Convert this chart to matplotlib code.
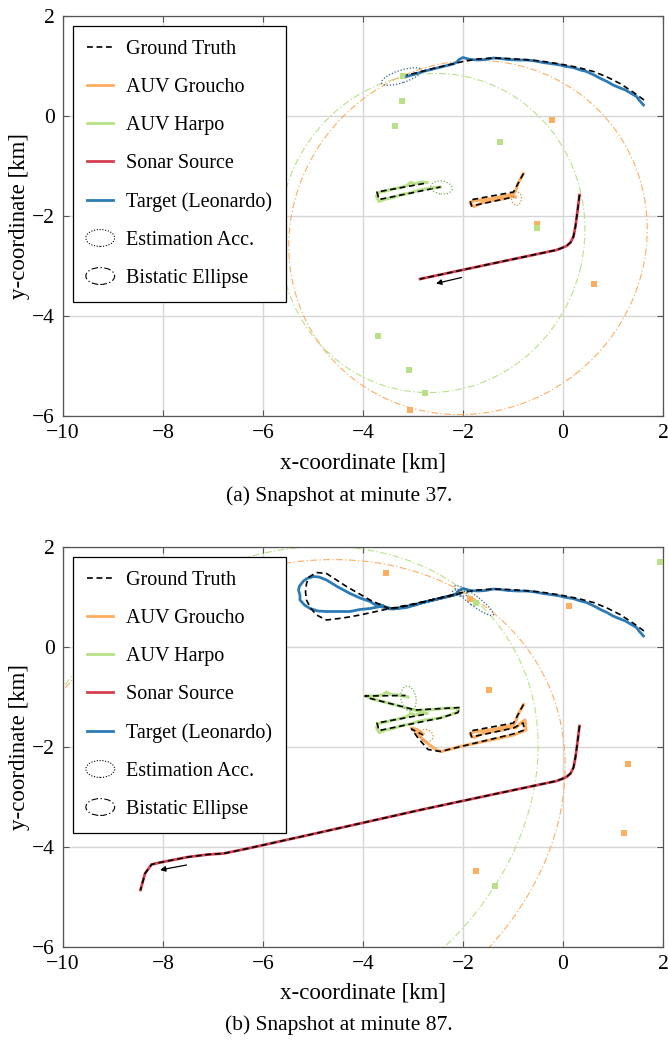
import matplotlib
matplotlib.use('Agg')
import matplotlib.pyplot as plt
from matplotlib.patches import Ellipse
from matplotlib.lines import Line2D
from matplotlib.legend_handler import HandlerPatch

plt.rcParams['font.family'] = ['Liberation Serif', 'DejaVu Serif']

ORANGE = '#fdae61'
GREEN = '#b8e186'
RED = '#d53e4f'
BLUE = '#2c7bb6'
ORANGE_DARK = '#d08a3c'
GREEN_DARK = '#6fae4a'
BLUE_DARK = '#2f5f8f'

# ---- tracks (km), snapshot at minute 37 ----
target_gt_a = [(1.62, 0.32), (1.40, 0.48), (1.14, 0.65), (0.88, 0.78), (0.61, 0.89),
               (0.30, 0.97), (-0.06, 1.04), (-0.45, 1.10), (-0.80, 1.13), (-1.10, 1.15),
               (-1.40, 1.16), (-1.70, 1.14), (-2.00, 1.09), (-2.30, 1.02), (-2.60, 0.95),
               (-2.90, 0.87), (-3.13, 0.82)]
target_est_a = [(1.61, 0.22), (1.52, 0.32), (1.47, 0.39), (1.35, 0.46), (1.25, 0.52),
                (1.12, 0.57), (1.00, 0.62), (0.88, 0.69), (0.75, 0.75), (0.62, 0.82),
                (0.47, 0.89), (0.35, 0.92), (0.20, 0.97), (0.06, 0.99), (-0.06, 1.02),
                (-0.25, 1.05), (-0.40, 1.07), (-0.55, 1.10), (-0.73, 1.12), (-0.90, 1.12),
                (-1.10, 1.13), (-1.25, 1.15), (-1.39, 1.16), (-1.55, 1.13), (-1.70, 1.12),
                (-1.85, 1.13), (-1.93, 1.15), (-2.00, 1.17), (-2.08, 1.13), (-2.13, 1.07),
                (-2.20, 1.04), (-2.40, 0.99), (-2.60, 0.94), (-2.80, 0.89), (-2.95, 0.84),
                (-3.13, 0.79)]
harpo_gt_a = [(-2.78, -1.35), (-3.72, -1.52), (-3.68, -1.67), (-2.45, -1.42)]
harpo_est_a = [(-2.72, -1.33), (-2.85, -1.32), (-2.95, -1.36), (-3.05, -1.33), (-3.12, -1.39),
               (-3.25, -1.43), (-3.40, -1.46), (-3.55, -1.50), (-3.70, -1.53), (-3.73, -1.61),
               (-3.68, -1.71), (-3.55, -1.66), (-3.40, -1.63), (-3.22, -1.57), (-3.05, -1.54),
               (-2.90, -1.49), (-2.75, -1.46), (-2.60, -1.44), (-2.45, -1.42)]
groucho_gt_a = [(-0.79, -1.15), (-0.99, -1.52), (-1.86, -1.68), (-1.83, -1.80), (-0.99, -1.62)]
groucho_est_a = [(-0.79, -1.15), (-0.83, -1.22), (-0.90, -1.35), (-0.93, -1.45), (-0.99, -1.56),
                 (-1.20, -1.60), (-1.40, -1.65), (-1.60, -1.67), (-1.80, -1.70), (-1.86, -1.74),
                 (-1.78, -1.81), (-1.60, -1.73), (-1.40, -1.69), (-1.20, -1.66), (-1.00, -1.60),
                 (-0.95, -1.62)]
sonar_a = [(0.33, -1.58), (0.29, -1.90), (0.25, -2.20), (0.21, -2.41), (0.15, -2.53),
           (0.07, -2.60), (-0.05, -2.65), (-0.13, -2.68), (-1.50, -2.97), (-2.86, -3.26)]

# ---- additional track pieces up to minute 87 ----
target_gt_b = target_gt_a + [
    (-3.46, 0.76), (-3.86, 0.94), (-4.33, 1.21), (-4.73, 1.47), (-4.93, 1.49), (-5.08, 1.40),
    (-5.13, 1.27), (-5.15, 1.10), (-5.13, 0.94), (-5.05, 0.78), (-4.93, 0.64), (-4.73, 0.54),
    (-4.40, 0.58), (-4.06, 0.64), (-3.46, 0.77), (-3.00, 0.86), (-2.50, 0.97), (-2.06, 1.07)]
target_est_b = target_est_a + [
    (-3.30, 0.77), (-3.46, 0.76), (-3.62, 0.80), (-3.78, 0.86), (-3.86, 0.91), (-4.06, 0.98),
    (-4.26, 1.07), (-4.50, 1.20), (-4.73, 1.34), (-4.88, 1.40), (-4.99, 1.41), (-5.12, 1.37),
    (-5.19, 1.32), (-5.27, 1.22), (-5.29, 1.14), (-5.26, 1.03), (-5.26, 0.94), (-5.17, 0.84),
    (-5.06, 0.77), (-4.90, 0.72), (-4.73, 0.71), (-4.50, 0.71), (-4.26, 0.71), (-4.06, 0.75),
    (-3.86, 0.77), (-3.70, 0.80), (-3.60, 0.83), (-3.75, 0.86), (-3.55, 0.80), (-3.39, 0.76),
    (-3.10, 0.82), (-2.80, 0.89), (-2.50, 0.96), (-2.20, 1.03), (-2.06, 1.07)]
harpo_gt_b = harpo_gt_a + [
    (-2.10, -1.31), (-2.06, -1.21), (-2.95, -1.26), (-3.85, -1.03), (-3.96, -0.98), (-3.15, -0.97)]
harpo_est_b = harpo_est_a + [
    (-2.30, -1.37), (-2.12, -1.31), (-2.09, -1.23), (-2.30, -1.22), (-2.60, -1.25), (-2.93, -1.27),
    (-3.20, -1.20), (-3.50, -1.12), (-3.80, -1.04), (-3.96, -0.98), (-3.80, -0.98), (-3.60, -0.96),
    (-3.53, -0.90), (-3.45, -0.95), (-3.30, -0.96), (-3.10, -1.00)]
groucho_gt_b = groucho_gt_a + [
    (-0.80, -1.52), (-0.77, -1.66), (-1.00, -1.74), (-1.50, -1.86), (-2.00, -1.98), (-2.45, -2.09),
    (-2.70, -2.05), (-2.90, -1.82), (-3.03, -1.64), (-2.80, -1.76)]
groucho_est_b = groucho_est_a + [
    (-0.82, -1.50), (-0.76, -1.46), (-0.74, -1.66), (-0.99, -1.76), (-1.59, -1.89), (-2.06, -1.99),
    (-2.43, -2.09), (-2.53, -2.06), (-2.76, -1.89), (-2.99, -1.66), (-3.03, -1.62), (-2.90, -1.66),
    (-2.80, -1.74)]
sonar_b = sonar_a + [
    (-3.93, -3.50), (-5.00, -3.74), (-5.99, -3.96), (-6.40, -4.05), (-6.79, -4.13), (-7.10, -4.15),
    (-7.50, -4.20), (-8.06, -4.31), (-8.23, -4.35), (-8.36, -4.53), (-8.45, -4.86)]

# contact positions reported by each AUV
groucho_pts_a = [(-0.21, -0.08), (-0.51, -2.16), (0.63, -3.35), (-3.06, -5.87)]
harpo_pts_a = [(-3.19, 0.80), (-3.21, 0.31), (-3.35, -0.20), (-1.25, -0.52), (-0.51, -2.23),
               (-3.69, -4.39), (-3.07, -5.07), (-2.76, -5.53)]
groucho_pts_b = [(-3.53, 1.49), (-1.86, 0.97), (0.13, 0.82), (-1.47, -0.86), (1.31, -2.33),
                 (1.23, -3.71), (-1.73, -4.47)]
harpo_pts_b = [(-1.73, 0.89), (1.94, 1.71), (-1.35, -4.77)]

# bistatic ellipses: centre x, centre y, width, height, angle
bistatic_groucho_a = (-1.90, -2.43, 7.30, 6.95, 38)
bistatic_harpo_a = (-2.62, -2.34, 6.40, 6.10, 76)
bistatic_groucho_b = (-5.60, -3.28, 11.76, 9.50, 28.4)
bistatic_harpo_b = (-5.75, -2.90, 11.14, 9.10, 35.2)

# estimation accuracy ellipses: centre x, centre y, width, height, angle
acc_a = [((-3.23, 0.79, 0.84, 0.25, 18), BLUE_DARK),
         ((-2.43, -1.43, 0.43, 0.26, -8), GREEN_DARK),
         ((-0.93, -1.65, 0.20, 0.27, 0), ORANGE_DARK)]
acc_b = [((-2.06, 1.08, 0.30, 0.12, -10), BLUE_DARK),
         ((-1.78, 0.93, 0.96, 0.20, -37), BLUE_DARK),
         ((-3.09, -1.03, 0.30, 0.50, 10), GREEN_DARK),
         ((-2.73, -1.77, 0.27, 0.23, -30), ORANGE_DARK)]

# source heading arrows (tail, head)
arrow_a = ((-2.03, -3.23), (-2.54, -3.35))
arrow_b = ((-7.53, -4.36), (-8.06, -4.46))

GT_DASH = (0, (3.5, 2.2))
BI_DASH = (0, (6, 2.2, 1.2, 2.2))
ACC_DOT = (0, (1, 1.5))


def xs(pts):
    return [p[0] for p in pts]


def ys(pts):
    return [p[1] for p in pts]


def ellipse_icon(legend, orig_handle, xdescent, ydescent, width, height, fontsize):
    return Ellipse((0.5 * width - xdescent, 0.5 * height - ydescent), width * 1.1, height * 1.2)


def draw_snapshot(ax, target_gt, target_est, harpo_gt, harpo_est, groucho_gt, groucho_est,
                  sonar, g_pts, h_pts, bi_g, bi_h, acc, arrow):
    for e, col in ((bi_h, GREEN), (bi_g, ORANGE)):
        ax.add_patch(Ellipse((e[0], e[1]), e[2], e[3], angle=e[4], fill=False,
                             ec=col, lw=0.8, ls=BI_DASH, zorder=2))
    ax.plot(xs(g_pts), ys(g_pts), 's', color=ORANGE, ms=3.8, mew=0, zorder=3)
    ax.plot(xs(h_pts), ys(h_pts), 's', color=GREEN, ms=3.8, mew=0, zorder=3)

    ax.plot(xs(harpo_est), ys(harpo_est), color=GREEN, lw=2.2, zorder=4, solid_joinstyle='round')
    ax.plot(xs(groucho_est), ys(groucho_est), color=ORANGE, lw=2.2, zorder=4, solid_joinstyle='round')
    ax.plot(xs(sonar), ys(sonar), color=RED, lw=2.0, zorder=4)
    ax.plot(xs(target_est), ys(target_est), color=BLUE, lw=2.0, zorder=4, solid_joinstyle='round')

    for pts in (target_gt, harpo_gt, groucho_gt, sonar):
        ax.plot(xs(pts), ys(pts), color='k', lw=1.2, ls=GT_DASH, zorder=5)

    for e, col in acc:
        ax.add_patch(Ellipse((e[0], e[1]), e[2], e[3], angle=e[4], fill=False,
                             ec=col, lw=0.9, ls=ACC_DOT, zorder=6))

    ax.annotate('', xy=arrow[1], xytext=arrow[0],
                arrowprops=dict(arrowstyle='-|>', color='k', lw=0.9, mutation_scale=8,
                                shrinkA=0, shrinkB=0), zorder=6)

    ax.set_xlim(-10, 2)
    ax.set_ylim(-6, 2)
    ax.set_xticks(range(-10, 3, 2))
    ax.set_yticks(range(-6, 3, 2))
    ax.grid(True, color='#d6d6d6', lw=1.0)
    ax.set_axisbelow(True)
    ax.tick_params(direction='in', top=True, right=True, length=4, width=0.8,
                   color='#555555', labelsize=15.5, pad=6)
    for s in ax.spines.values():
        s.set_color('#555555')
        s.set_linewidth(0.9)
    ax.set_xlabel('x-coordinate [km]', fontsize=16.5)
    ax.set_ylabel('y-coordinate [km]', fontsize=16.5)
    ax.xaxis.set_label_coords(0.5, -0.09)
    ax.yaxis.set_label_coords(-0.055, 0.5)

    handles = [Line2D([], [], color='k', lw=1.2, ls=GT_DASH),
               Line2D([], [], color=ORANGE, lw=2.0),
               Line2D([], [], color=GREEN, lw=2.0),
               Line2D([], [], color=RED, lw=2.0),
               Line2D([], [], color=BLUE, lw=2.0),
               Ellipse((0, 0), 1, 1, fill=False, ec='k', lw=0.8, ls=ACC_DOT),
               Ellipse((0, 0), 1, 1, fill=False, ec='k', lw=0.8, ls=BI_DASH)]
    labels = ['Ground Truth', 'AUV Groucho', 'AUV Harpo', 'Sonar Source',
              'Target (Leonardo)', 'Estimation Acc.', 'Bistatic Ellipse']
    leg = ax.legend(handles, labels, loc='upper left', fontsize=14.5, fancybox=False,
                    edgecolor='k', framealpha=1, borderpad=0.7, labelspacing=0.94,
                    handlelength=1.3, handletextpad=0.62, borderaxespad=0.5,
                    handler_map={Ellipse: HandlerPatch(patch_func=ellipse_icon)})
    leg.get_frame().set_linewidth(0.9)
    leg.set_zorder(10)


fig = plt.figure(figsize=(6.68, 10.41), dpi=100)
ax_a = fig.add_axes([63 / 668, 1 - 416 / 1041, 600 / 668, 400 / 1041])
ax_b = fig.add_axes([63 / 668, 1 - 947 / 1041, 600 / 668, 400 / 1041])

draw_snapshot(ax_a, target_gt_a, target_est_a, harpo_gt_a, harpo_est_a, groucho_gt_a,
              groucho_est_a, sonar_a, groucho_pts_a, harpo_pts_a,
              bistatic_groucho_a, bistatic_harpo_a, acc_a, arrow_a)
draw_snapshot(ax_b, target_gt_b, target_est_b, harpo_gt_b, harpo_est_b, groucho_gt_b,
              groucho_est_b, sonar_b, groucho_pts_b, harpo_pts_b,
              bistatic_groucho_b, bistatic_harpo_b, acc_b, arrow_b)

fig.text(339 / 668, 1 - 496 / 1041, '(a) Snapshot at minute 37.', ha='center', va='center', fontsize=15.5)
fig.text(339 / 668, 1 - 1025 / 1041, '(b) Snapshot at minute 87.', ha='center', va='center', fontsize=15.5)

fig.savefig('out.png', dpi=100)
